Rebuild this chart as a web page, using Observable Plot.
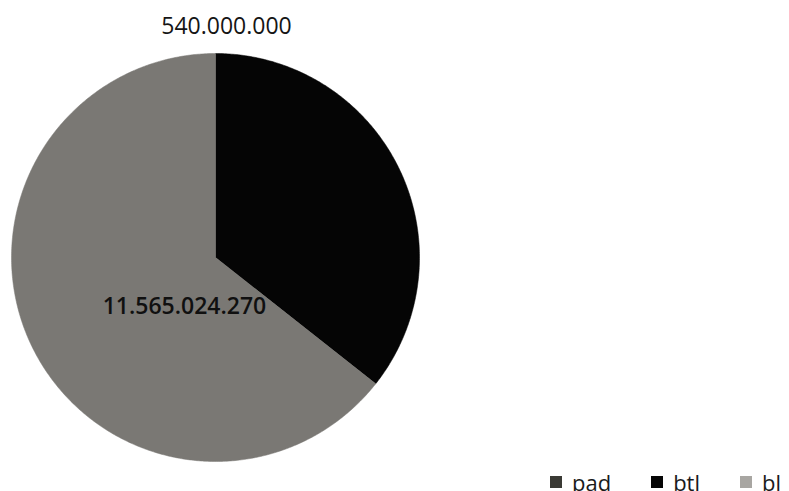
<!DOCTYPE html>
<html><head><meta charset="utf-8">
<script src="https://cdn.jsdelivr.net/npm/d3@7"></script>
<script src="https://cdn.jsdelivr.net/npm/@observablehq/plot@0.6"></script>
<style>
body{margin:0;background:#fff;font-family:"Open Sans",sans-serif;}
#wrap{position:relative;width:789px;height:491px;overflow:hidden;}
#legend{position:absolute;left:550px;top:471px;display:flex;gap:40px;font-size:22px;line-height:22px;color:#1a1a1a;}
#legend .item{display:flex;align-items:flex-start;}
#legend .sw{width:12px;height:12px;margin-top:5px;margin-right:10px;}
</style>
</head><body>
<div id="wrap"><div id="chart"></div><div id="legend"></div></div>
<script>
const categories = ["pad", "btl", "bl"];
const values = [0, 6400000000, 11565024270];
const valueLabels = ["540.000.000", "", "11.565.024.270"];
const colors = ["#3d3d38", "#050505", "#7a7874"];
const legendColors = ["#3a3a35", "#050505", "#a8a6a2"];

const arcs = d3.pie().sort(null).startAngle(0).endAngle(2 * Math.PI)(values);

const slicePts = [];
arcs.forEach((a, i) => {
  if (a.endAngle - a.startAngle <= 0) return;
  slicePts.push({key: categories[i], x: 0, y: 0});
  const n = Math.max(2, Math.ceil((a.endAngle - a.startAngle) / (Math.PI / 360)));
  for (let k = 0; k <= n; k++) {
    const t = a.startAngle + (a.endAngle - a.startAngle) * k / n;
    slicePts.push({key: categories[i], x: Math.sin(t), y: Math.cos(t)});
  }
  slicePts.push({key: categories[i], x: 0, y: 0});
});

const labelRad = [1.13, 0.5, 0.3];
const labels = arcs.map((a, i) => {
  const m = (a.startAngle + a.endAngle) / 2;
  return {key: categories[i], text: valueLabels[i], x: labelRad[i] * Math.sin(m), y: labelRad[i] * Math.cos(m)};
}).filter(d => d.text);

const chart = Plot.plot({
  width: 789, height: 491,
  marginLeft: 11, marginRight: 370, marginTop: 53, marginBottom: 30,
  x: {domain: [-1, 1], axis: null},
  y: {domain: [-1, 1], axis: null},
  color: {domain: categories, range: colors},
  style: {fontFamily: "'Open Sans', sans-serif", background: "#fff"},
  marks: [
    Plot.line(slicePts, {x: "x", y: "y", z: "key", fill: "key", stroke: "key", strokeWidth: 0.5, curve: "linear"}),
    Plot.text(labels.filter(d => d.key === "pad"), {x: "x", y: "y", text: "text", dx: 11, dy: 0, fontSize: 23, fill: "#151515"}),
    Plot.text(labels.filter(d => d.key === "bl"), {x: "x", y: "y", text: "text", dx: 24, dy: 22, fontSize: 23, fontWeight: 600, fill: "#101010"})
  ]
});
document.getElementById("chart").appendChild(chart);

const lg = document.getElementById("legend");
categories.forEach((c, i) => {
  const it = document.createElement("div");
  it.className = "item";
  const sw = document.createElement("div");
  sw.className = "sw";
  sw.style.background = legendColors[i];
  const tx = document.createElement("span");
  tx.textContent = c;
  it.appendChild(sw); it.appendChild(tx);
  lg.appendChild(it);
});
</script>
</body></html>
